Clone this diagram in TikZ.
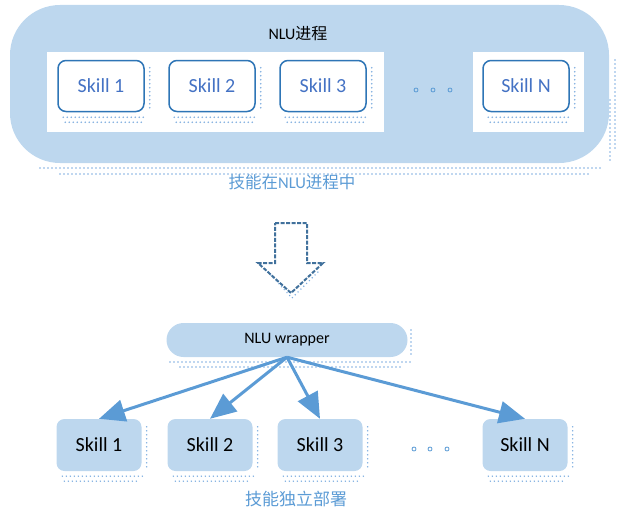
\documentclass[tikz,border=0pt]{standalone}
\usepackage{fontspec}
\setmainfont{Carlito}
\newfontfamily\cjk{Noto Sans CJK SC}
\usetikzlibrary{arrows.meta}
\usetikzlibrary{positioning}
\usepackage{xcolor}

\definecolor{lightblue}{HTML}{BDD7EE}
\definecolor{darkblue}{HTML}{2E75B6}
\definecolor{textblue}{HTML}{4472C4}
\definecolor{midblue}{HTML}{5B9BD5}
\definecolor{dotblue}{HTML}{7FAEE0}
\definecolor{dashblue}{HTML}{41719C}

\tikzset{
  skillbox/.style={draw=darkblue, line width=1.5pt, fill=white, rounded corners=8pt,
    minimum width=86pt, minimum height=51pt, text=textblue, font=\fontsize{20}{22}\selectfont},
  skillfill/.style={fill=lightblue, rounded corners=8pt,
    minimum width=85pt, minimum height=52pt, font=\fontsize{20}{22}\selectfont},
  shadowdots/.style={dotblue, line width=1.6pt, line cap=round, dash pattern=on 0pt off 4pt},
  moredot/.style={draw=midblue, line width=0.8pt, circle, inner sep=0pt, minimum size=4pt},
  fatarrow/.style={-{Triangle[length=26pt,width=22pt]}, midblue, line width=3pt},
}

\begin{document}
\begin{tikzpicture}[x=1pt, y=-1pt]

\useasboundingbox (0,0) rectangle (617,511);

%top: skills inside the NLU process
\draw[shadowdots] (40,168) -- (600,168);
\draw[shadowdots] (60,174) -- (590,174);
\draw[shadowdots] (610,100) -- (610,160);
\draw[shadowdots] (615,60) -- (615,150);
\fill[lightblue, rounded corners=50pt] (10,5) rectangle (609,163);
\fill[white] (47,52) rectangle (384,132);
\fill[white] (473,52) rectangle (584,132);

\node at (298,34) {\fontsize{16}{18}\selectfont NLU{\cjk 进程}};

\node[skillbox] (t1) at (101,86) {Skill 1};
\node[skillbox] (t2) at (212,86) {Skill 2};
\node[skillbox] (t3) at (323,86) {Skill 3};
\node[skillbox] (tN) at (526,86) {Skill N};

\node[moredot] (td1) at (416,90) {};
\node[moredot] (td2) at (433,90) {};
\node[moredot] (td3) at (450,90) {};

\node[text=midblue, font=\fontsize{16.5}{18}\selectfont] (toplabel) at (292,182)
  {{\cjk 技能在}NLU{\cjk 进程中}};

%down arrow
\draw[shadowdots] (268,272) -- (292,298) -- (318,272);
\draw[dashblue, line width=2pt, dash pattern=on 4pt off 1.5pt]
  (275,223) -- (307,223) -- (307,263) -- (323,263) -- (291,293)
  -- (258,263) -- (275,263) -- cycle;

%bottom: skills deployed on their own
\draw[shadowdots] (170,362) -- (410,362);
\draw[shadowdots] (180,367) -- (400,367);
\draw[shadowdots] (411,330) -- (411,355);
\node[fill=lightblue, rounded corners=17pt, minimum width=241pt, minimum height=34pt,
  font=\fontsize{16}{18}\selectfont] (wrap) at (287,340) {NLU wrapper};

\node[skillfill] (b1) at (99,445) {Skill 1};
\node[skillfill] (b2) at (210,445) {Skill 2};
\node[skillfill] (b3) at (320,445) {Skill 3};
\node[skillfill] (bN) at (525,445) {Skill N};

\foreach \n in {t1,t2,t3,tN,b1,b2,b3,bN} {
  \draw[shadowdots] ([xshift=6pt,yshift=-5pt]\n.south west) -- ([xshift=2pt,yshift=-5pt]\n.south east);
  \draw[shadowdots] ([xshift=8pt,yshift=-10pt]\n.south west) -- ([xshift=-2pt,yshift=-10pt]\n.south east);
  \draw[shadowdots] ([xshift=5pt,yshift=-8pt]\n.north east) -- ([xshift=5pt,yshift=4pt]\n.south east);
}

\node[moredot] (bd1) at (414,449) {};
\node[moredot] (bd2) at (430,449) {};
\node[moredot] (bd3) at (447,449) {};

\draw[fatarrow] (wrap.south) -- (b1.north);
\draw[fatarrow] (wrap.south) -- (b2.north);
\draw[fatarrow] (wrap.south) -- (b3.north);
\draw[fatarrow] (wrap.south) -- (bN.north);

\node[text=midblue, font=\fontsize{17}{19}\selectfont\cjk] (botlabel) at (296,499) {技能独立部署};

\end{tikzpicture}
\end{document}
